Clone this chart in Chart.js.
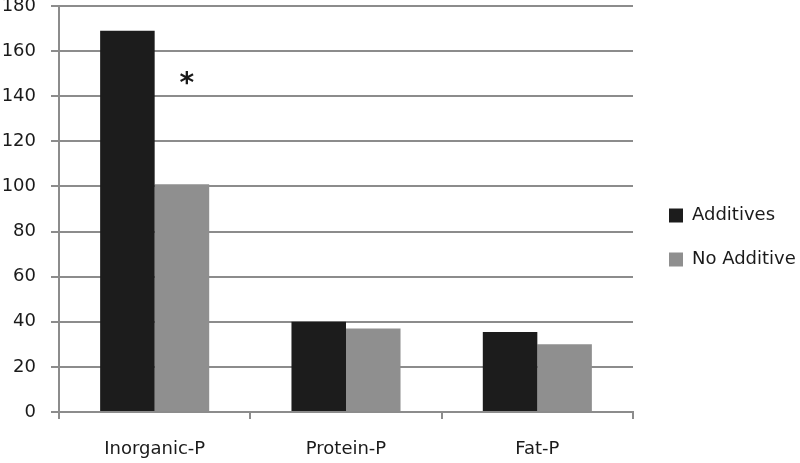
<!DOCTYPE html>
<html>
<head>
<meta charset="utf-8">
<script src="https://cdn.jsdelivr.net/npm/chart.js@4"></script>
<style>
  html, body { margin: 0; padding: 0; background: #fff; }
  #wrap { width: 800px; height: 463px; }
</style>
</head>
<body>
<div id="wrap"><canvas id="chart"></canvas></div>
<script>
// ---- data ----
var categories = ['Inorganic-P', 'Protein-P', 'Fat-P'];
var additives = [169, 40, 35.5];
var noAdditive = [101, 37, 30];
var yTicks = [0, 20, 40, 60, 80, 100, 120, 140, 160, 180];
// significance marks: category, text, height (in axis units)
var marks = [{ category: 'Inorganic-P', text: '*', value: 147 }];

var textColor = '#1a1a1a';
var gridColor = '#8c8c8c';
var font = { family: 'DejaVu Sans', size: 18 };

// draws the asterisk next to the bars
var markPlugin = {
    id: 'marks',
    afterDatasetsDraw: function(chart) {
        let ctx = chart.ctx;
        let meta = chart.getDatasetMeta(1);
        ctx.save();
        ctx.fillStyle = textColor;
        ctx.font = 'bold 28px DejaVu Sans';
        ctx.textAlign = 'center';
        ctx.textBaseline = 'middle';
        marks.forEach((m) => {
            let bar = meta.data[categories.indexOf(m.category)];
            let y = chart.scales.y.getPixelForValue(m.value);
            ctx.fillText(m.text, bar.x + 5, y + 4);
        });
        ctx.restore();
    }
};

// fixed legend width, legend nudged right and down
var legendPlugin = {
    id: 'legendPlace',
    beforeInit: function(chart) {
        let origFit = chart.legend.fit;
        chart.legend.fit = function() {
            origFit.call(this);
            this.width = 167;
        };
    },
    afterLayout: function(chart) {
        chart.legend.left += 10;
        chart.legend.right += 10;
        chart.legend.top += 3;
        chart.legend.bottom += 3;
    }
};

new Chart(document.getElementById('chart'), {
    type: 'bar',
    data: {
        labels: categories,
        datasets: [
            { label: 'Additives', data: additives, backgroundColor: '#1c1c1c' },
            { label: 'No Additive', data: noAdditive, backgroundColor: '#8f8f8f' }
        ]
    },
    options: {
        responsive: true,
        maintainAspectRatio: false,
        animation: false,
        layout: { padding: { top: 6, right: 0, left: 0, bottom: 0 } },
        datasets: { bar: { categoryPercentage: 0.57, barPercentage: 1.0 } },
        plugins: {
            tooltip: { enabled: false },
            legend: {
                position: 'right',
                align: 'center',
                labels: {
                    color: textColor,
                    font: font,
                    boxWidth: 14,
                    boxHeight: 14,
                    padding: 26
                }
            }
        },
        scales: {
            x: {
                grid: {
                    offset: true,
                    drawOnChartArea: false,
                    drawTicks: true,
                    tickLength: 7,
                    color: gridColor,
                    lineWidth: 2
                },
                border: { color: gridColor, width: 2 },
                ticks: { color: textColor, font: font, padding: 20, maxRotation: 0 },
                afterFit: function(scale) { scale.height = 51; }
            },
            y: {
                min: 0,
                max: 180,
                afterBuildTicks: function(scale) {
                    scale.ticks = yTicks.map((v) => ({ value: v }));
                },
                grid: { color: gridColor, lineWidth: 2, tickLength: 8 },
                border: { color: gridColor, width: 2 },
                ticks: { color: textColor, font: font, padding: 15 },
                afterFit: function(scale) {
                    scale.width = 59;
                    scale.paddingTop = 0;
                    scale.paddingBottom = 0;
                }
            }
        }
    },
    plugins: [markPlugin, legendPlugin]
});
</script>
</body>
</html>
